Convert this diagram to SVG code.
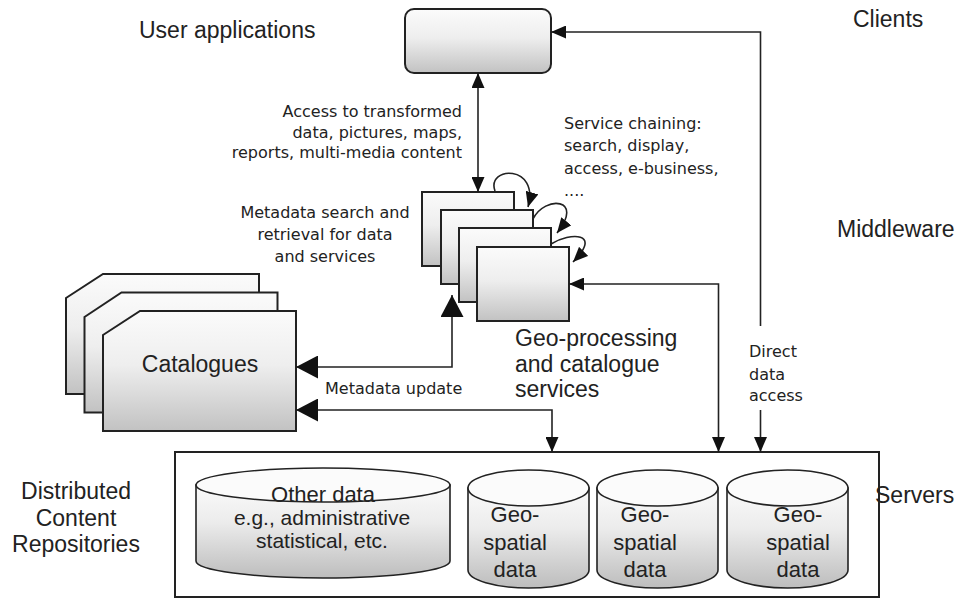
<svg xmlns="http://www.w3.org/2000/svg" width="957" height="598" viewBox="0 0 957 598">
<defs>
<linearGradient id="gBox" x1="0" y1="0" x2="0" y2="1">
<stop offset="0" stop-color="#fbfbfb"/>
<stop offset="0.45" stop-color="#eeeeee"/>
<stop offset="1" stop-color="#c2c2c2"/>
</linearGradient>
<linearGradient id="gCyl" x1="0" y1="0" x2="0" y2="1">
<stop offset="0" stop-color="#fafafa"/>
<stop offset="0.4" stop-color="#ececec"/>
<stop offset="1" stop-color="#bdbdbd"/>
</linearGradient>
<marker id="aS" markerUnits="userSpaceOnUse" markerWidth="15" markerHeight="13" refX="15" refY="6.5" orient="auto-start-reverse">
<path d="M0,0 L15,6.5 L0,13 z" fill="#111"/>
</marker>
<marker id="aL" markerUnits="userSpaceOnUse" markerWidth="22" markerHeight="23" refX="22" refY="11.5" orient="auto-start-reverse">
<path d="M0,0 L22,11.5 L0,23 z" fill="#111"/>
</marker>
</defs>
<style>
.box{fill:url(#gBox);stroke:#222;stroke-width:2}
.cylb{fill:url(#gCyl);stroke:#222;stroke-width:1.6}
.cylt{fill:#fbfbfb;stroke:#222;stroke-width:1.6}
.con{fill:none;stroke:#222;stroke-width:1.6}
.ar{font-family:"Liberation Sans",Arial,sans-serif;font-size:23px;fill:#222}
.tb{font-family:"DejaVu Sans",Verdana,sans-serif;font-size:16px;fill:#222}
</style>
<rect width="957" height="598" fill="#fff"/>

<g id="labels">
<text class="ar" x="139" y="38">User applications</text>
<text class="ar" x="853" y="27">Clients</text>
<text class="ar" x="837" y="237">Middleware</text>
<text class="ar" x="875" y="503">Servers</text>
<text class="ar" text-anchor="middle" x="76" y="499">Distributed</text>
<text class="ar" text-anchor="middle" x="76" y="526">Content</text>
<text class="ar" text-anchor="middle" x="76" y="552">Repositories</text>
<text class="ar" x="515" y="346">Geo-processing</text>
<text class="ar" x="515" y="372">and catalogue</text>
<text class="ar" x="515" y="397">services</text>
<text class="tb" text-anchor="end" x="462" y="117">Access to transformed</text>
<text class="tb" text-anchor="end" x="462" y="137.5">data, pictures, maps,</text>
<text class="tb" text-anchor="end" x="462" y="158">reports, multi-media content</text>
<text class="tb" x="564" y="129">Service chaining:</text>
<text class="tb" x="564" y="151">search, display,</text>
<text class="tb" x="564" y="174">access, e-business,</text>
<text class="tb" x="564" y="196">....</text>
<text class="tb" text-anchor="middle" x="325" y="218">Metadata search and</text>
<text class="tb" text-anchor="middle" x="325" y="240">retrieval for data</text>
<text class="tb" text-anchor="middle" x="325" y="262">and services</text>
<text class="tb" x="325" y="394">Metadata update</text>
<text class="tb" x="749" y="357">Direct</text>
<text class="tb" x="749" y="380">data</text>
<text class="tb" x="749" y="401">access</text>
</g>

<g id="user-applications">
<rect class="box" x="405" y="9" width="146" height="64" rx="9"/>
</g>

<g id="services-stack">
<rect class="box" x="422" y="192" width="92" height="74"/>
<rect class="box" x="441" y="210" width="92" height="74"/>
<rect class="box" x="459" y="228" width="92" height="74"/>
<rect class="box" x="477" y="247" width="92" height="74"/>
</g>

<g id="catalogues">
<path class="box" d="M66,298 L103,274 H259 V394 H66 Z"/>
<path class="box" d="M84.5,317 L121.5,292.5 H277.5 V412.5 H84.5 Z"/>
<path class="box" d="M103,335 L140,311 H296 V431 H103 Z"/>
<text class="ar" text-anchor="middle" x="200" y="372">Catalogues</text>
</g>

<g id="servers">
<rect x="175" y="452" width="704" height="145" fill="none" stroke="#222" stroke-width="2"/>
</g>

<g id="other-data">
<path class="cylb" d="M196,485 V561 A127,17 0 0 0 450,561 V485 Z"/>
<ellipse class="cylt" cx="323" cy="485" rx="127" ry="17"/>
<text class="ar" text-anchor="middle" x="323" y="502" style="font-size:22px">Other data</text>
<text class="ar" text-anchor="middle" x="322" y="525" style="font-size:21px">e.g., administrative</text>
<text class="ar" text-anchor="middle" x="322" y="548" style="font-size:21px">statistical, etc.</text>
</g>

<g id="geo-spatial-1">
<path class="cylb" d="M468,488 V570 A60.5,18 0 0 0 589,570 V488 Z"/>
<ellipse class="cylt" cx="528.5" cy="488" rx="60.5" ry="18"/>
<text class="ar" text-anchor="middle" x="515" y="522" style="font-size:22px">Geo-</text>
<text class="ar" text-anchor="middle" x="515" y="550" style="font-size:22px">spatial</text>
<text class="ar" text-anchor="middle" x="515" y="577" style="font-size:22px">data</text>
</g>

<g id="geo-spatial-2">
<path class="cylb" d="M597,488 V570 A60.5,18 0 0 0 718,570 V488 Z"/>
<ellipse class="cylt" cx="657.5" cy="488" rx="60.5" ry="18"/>
<text class="ar" text-anchor="middle" x="645" y="522" style="font-size:22px">Geo-</text>
<text class="ar" text-anchor="middle" x="645" y="550" style="font-size:22px">spatial</text>
<text class="ar" text-anchor="middle" x="645" y="577" style="font-size:22px">data</text>
</g>

<g id="geo-spatial-3">
<path class="cylb" d="M727,488 V570 A60.5,18 0 0 0 848,570 V488 Z"/>
<ellipse class="cylt" cx="787.5" cy="488" rx="60.5" ry="18"/>
<text class="ar" text-anchor="middle" x="798" y="522" style="font-size:22px">Geo-</text>
<text class="ar" text-anchor="middle" x="798" y="550" style="font-size:22px">spatial</text>
<text class="ar" text-anchor="middle" x="798" y="577" style="font-size:22px">data</text>
</g>

<g id="connectors">
<path class="con" d="M478,73 V192" marker-start="url(#aS)" marker-end="url(#aS)"/>
<path class="con" d="M551,32 H760.5 V326" marker-start="url(#aS)"/>
<path class="con" d="M760.5,410 V452" marker-end="url(#aS)"/>
<path class="con" d="M569,284 H718.5 V452" marker-start="url(#aS)" marker-end="url(#aS)"/>
<path class="con" d="M296,367 H452 V295" marker-start="url(#aL)" marker-end="url(#aL)"/>
<path class="con" d="M296,410 H552 V452" marker-start="url(#aL)" marker-end="url(#aS)"/>
<path class="con" d="M495,191 C486,166 540,164 528,207" marker-end="url(#aS)"/>
<path class="con" d="M533,219 C545,195 585,198 557,233" marker-end="url(#aS)"/>
<path class="con" d="M551,244 C570,232 603,232 573,262" marker-end="url(#aS)"/>
</g>
</svg>
